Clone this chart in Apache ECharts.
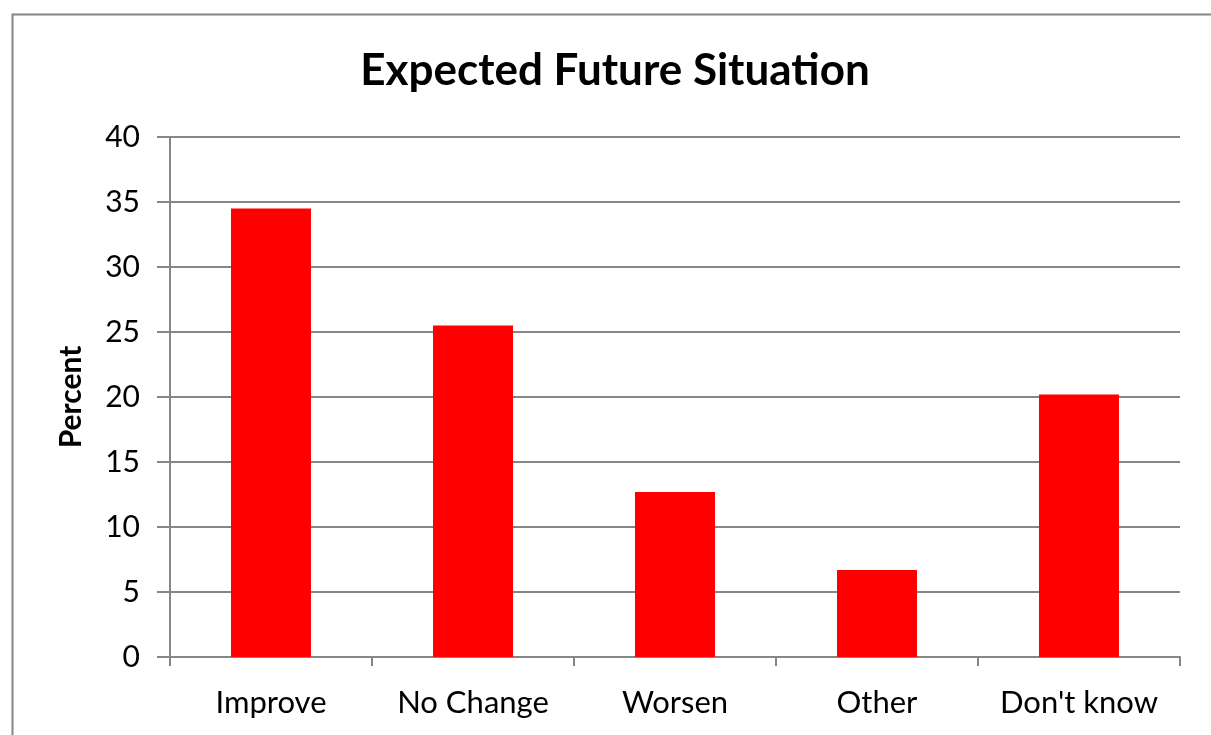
<!DOCTYPE html>
<html>
<head>
<meta charset="utf-8">
<script src="https://cdn.jsdelivr.net/npm/echarts@6/dist/echarts.min.js"></script>
<style>
html,body{margin:0;padding:0;background:#fff;}
#chart{width:1211px;height:735px;}
</style>
</head>
<body>
<div id="chart"></div>
<script>
var categories = ["Improve", "No Change", "Worsen", "Other", "Don't know"];
var percentValues = [34.5, 25.5, 12.7, 6.7, 20.2];
var titleText = "Expected Future Situation";
var yAxisName = "Percent";

var chart = echarts.init(document.getElementById('chart'), null, {renderer: 'canvas'});
var gray = '#868686';
var font = 'Lato, "Open Sans", "DejaVu Sans", sans-serif';
chart.setOption({
  animation: false,
  backgroundColor: '#fff',
  graphic: [{
    type: 'rect', left: 10, top: 12, z: -1,
    shape: {width: 1400, height: 900},
    style: {fill: 'none', stroke: gray, lineWidth: 2}
  }],
  title: {
    text: titleText, left: 610, top: 44, textAlign: 'center',
    textStyle: {fontFamily: font, fontWeight: 'bold', fontSize: 44, color: '#000'}
  },
  grid: {left: 170, right: 31, top: 137, bottom: 78, containLabel: false},
  xAxis: {
    type: 'category', data: categories,
    axisLine: {lineStyle: {color: gray, width: 2}},
    axisTick: {show: true, interval: 0, length: 9, lineStyle: {color: gray, width: 2}},
    axisLabel: {interval: 0, hideOverlap: false, fontFamily: font, fontSize: 31, color: '#000', margin: 30}
  },
  yAxis: {
    type: 'value', min: 0, max: 40, interval: 5,
    name: yAxisName, nameLocation: 'middle', nameGap: 84,
    nameTextStyle: {fontFamily: font, fontWeight: 'bold', fontSize: 30, color: '#000'},
    axisLine: {show: true, lineStyle: {color: gray, width: 2}},
    axisTick: {show: true, length: 13, lineStyle: {color: gray, width: 2}},
    axisLabel: {fontFamily: font, fontSize: 30, color: '#000', margin: 30},
    splitLine: {lineStyle: {color: gray, width: 2}}
  },
  series: [{
    type: 'bar', data: percentValues, barWidth: 80,
    itemStyle: {color: '#ff0000'}
  }]
});
</script>
</body>
</html>
